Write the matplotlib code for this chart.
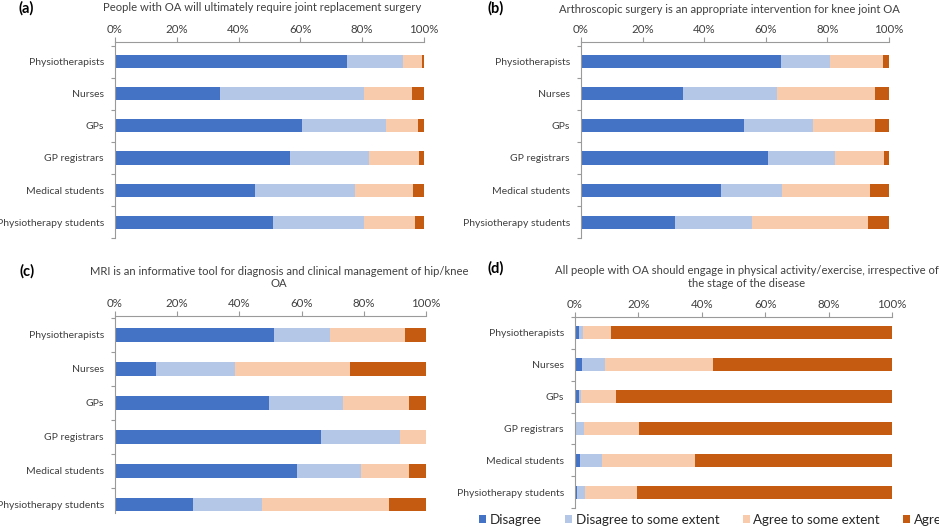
import numpy as np
import matplotlib
matplotlib.use('Agg')
from matplotlib import pyplot as plt
from matplotlib.patches import Patch

plt.rcParams['font.family'] = ['Lato', 'DejaVu Sans']

W, H = 939, 527

groups = ['Physiotherapists', 'Nurses', 'GPs', 'GP registrars',
          'Medical students', 'Physiotherapy students']
responses = ['Disagree', 'Disagree to some extent', 'Agree to some extent', 'Agree']
colors = ['#4472C4', '#B4C7E7', '#F8CBAD', '#C55A11']
pct_ticks = [0, 20, 40, 60, 80, 100]

# (a) joint replacement
a_disagree = [75.2, 34.0, 60.6, 56.6, 45.2, 51.0]
a_dis_some = [18.0, 46.6, 27.0, 25.7, 32.4, 29.6]
a_agr_some = [6.0, 15.6, 10.4, 16.2, 19.0, 16.6]
a_agree = [0.8, 3.8, 2.0, 1.5, 3.4, 2.8]

# (b) arthroscopic surgery
b_disagree = [64.8, 33.2, 52.9, 60.8, 45.6, 30.4]
b_dis_some = [16.0, 30.4, 22.5, 21.6, 19.7, 25.1]
b_agr_some = [17.3, 31.9, 20.1, 16.1, 28.5, 37.8]
b_agree = [1.9, 4.5, 4.5, 1.5, 6.2, 6.7]

# (c) MRI
c_disagree = [51.0, 13.3, 49.6, 66.1, 58.4, 25.2]
c_dis_some = [18.1, 25.3, 23.8, 25.6, 20.6, 22.2]
c_agr_some = [24.1, 36.9, 21.2, 8.3, 15.6, 40.8]
c_agree = [6.8, 24.5, 5.4, 0.0, 5.4, 11.8]

# (d) physical activity
d_disagree = [1.3, 2.2, 1.3, 0.0, 1.5, 0.6]
d_dis_some = [1.2, 7.4, 0.5, 2.7, 7.0, 2.6]
d_agr_some = [9.0, 34.0, 11.0, 17.5, 29.2, 16.4]
d_agree = [88.5, 56.4, 87.2, 79.8, 62.3, 80.4]

TXT = '#404040'
SPINE = '#9A9A9A'


def px_axes(fig, left, right, top, bottom):
    return fig.add_axes([left / W, 1 - bottom / H, (right - left) / W, (bottom - top) / H])


def panel(ax, series, ylim=(5.5, -0.6)):
    y = np.arange(len(groups))
    start = np.zeros(len(groups))
    for vals, col in zip(series, colors):
        vals = np.array(vals)
        ax.barh(y, vals, left=start, height=0.41, color=col, linewidth=0)
        start += vals
    ax.xaxis.tick_top()
    ax.set_xticks(pct_ticks)
    ax.set_xticklabels(['%d%%' % t for t in pct_ticks])
    ax.set_yticks(y)
    ax.set_yticklabels(groups)
    ax.set_yticks(np.arange(len(groups) + 1) - 0.5, minor=True)
    # limits last, set_yticks would widen them
    ax.set_xlim(0, 100)
    ax.set_ylim(*ylim)
    ax.tick_params(axis='x', which='major', length=3.5, width=0.8, color=SPINE,
                   labelsize=8.3, labelcolor=TXT, pad=1.8)
    ax.tick_params(axis='y', which='major', length=0, labelsize=7.5, labelcolor=TXT, pad=8)
    ax.tick_params(axis='y', which='minor', length=3, width=0.8, color=SPINE)
    for side in ['right', 'bottom']:
        ax.spines[side].set_visible(False)
    for side in ['left', 'top']:
        ax.spines[side].set_color(SPINE)
        ax.spines[side].set_linewidth(0.8)


fig = plt.figure(figsize=(W / 100, H / 100), dpi=100)

ax_a = px_axes(fig, 115, 424, 42.3, 238.3)
panel(ax_a, [a_disagree, a_dis_some, a_agr_some, a_agree])
ax_b = px_axes(fig, 581, 889, 42.3, 238.3)
panel(ax_b, [b_disagree, b_dis_some, b_agr_some, b_agree])
ax_c = px_axes(fig, 115, 426, 316, 513)
panel(ax_c, [c_disagree, c_dis_some, c_agr_some, c_agree], ylim=(5.25, -0.55))
ax_d = px_axes(fig, 575, 892, 317, 508)
panel(ax_d, [d_disagree, d_dis_some, d_agr_some, d_agree], ylim=(5.5, -0.5))

titles = [
    (262, 7.5, 'People with OA will ultimately require joint replacement surgery'),
    (729, 9.5, 'Arthroscopic surgery is an appropriate intervention for knee joint OA'),
    (279, 277.5, 'MRI is an informative tool for diagnosis and clinical management of hip/knee\nOA'),
    (747, 277, 'All people with OA should engage in physical activity/exercise, irrespective of\nthe stage of the disease'),
]
for x, y, t in titles:
    fig.text(x / W, 1 - y / H, t, ha='center', va='center', fontsize=8.1,
             color=TXT, linespacing=1.2)

for x, y, t in [(26, 8, '(a)'), (496, 8, '(b)'), (27, 271.5, '(c)'), (496, 268, '(d)')]:
    fig.text(x / W, 1 - y / H, t, ha='center', va='center', fontsize=10.5,
             fontweight='bold', color='black')

handles = [Patch(facecolor=c, edgecolor='none', label=r) for c, r in zip(colors, responses)]
fig.legend(handles=handles, loc='center left', bbox_to_anchor=(479 / W, 1 - 519.5 / H),
           ncol=4, frameon=False, fontsize=9.6, handlelength=0.55, handleheight=0.55,
           handletextpad=0.25, columnspacing=1.75, borderpad=0, borderaxespad=0,
           labelcolor='#262626')

fig.savefig('out.png', dpi=100)
